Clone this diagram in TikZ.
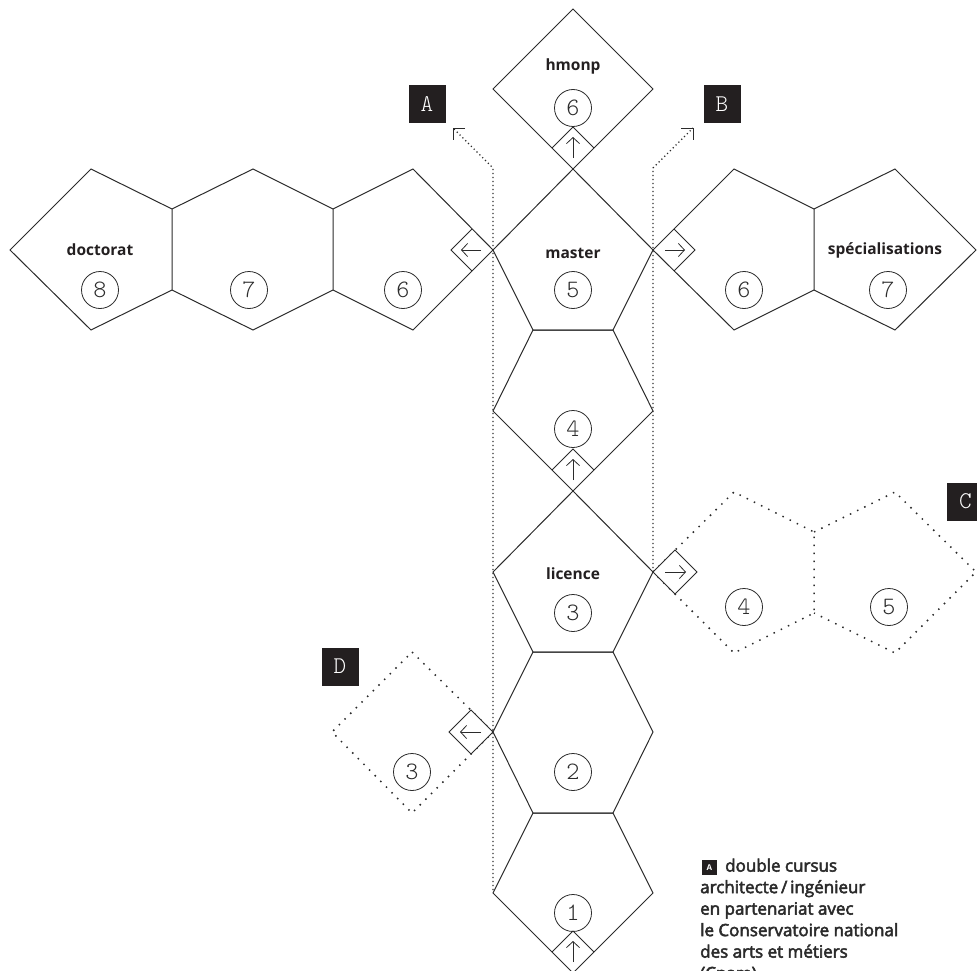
\documentclass[tikz,border=0pt]{standalone}
\usepackage{fontspec}
\setmainfont{Open Sans}
\newfontfamily\numfont{lmmonolt10-regular.otf}
\newfontfamily\legfont{Open Sans}[FakeBold=3]
\usetikzlibrary{arrows.meta}
\definecolor{ink}{HTML}{2B2B2B}
\definecolor{boxk}{HTML}{231F20}
\begin{document}
\begin{tikzpicture}[x=1pt,y=-1pt,
  shapeline/.style={draw=ink, line width=1pt, line join=miter},
  dotline/.style={draw=ink, line width=1.2pt, dash pattern=on 1.2pt off 2.8pt},
  sparse/.style={draw=ink, line width=1.5pt, dash pattern=on 1.5pt off 6.5pt},
  headline/.style={draw=ink, line width=0.9pt},
  num/.style={circle, draw=ink, line width=0.8pt, minimum size=37pt, inner sep=0pt, font=\numfont\fontsize{25}{25}\selectfont, text=ink},
  lab/.style={font=\bfseries\fontsize{15.5}{15.5}\selectfont, text=boxk, inner sep=0pt},
  tagbox/.style={fill=boxk, minimum width=37pt, minimum height=38pt, inner sep=0pt, text=white, font=\numfont\fontsize{24}{24}\selectfont},
  arr/.style={draw=ink, line width=0.8pt, -{Straight Barb[length=6pt,width=13pt]}}
]
\useasboundingbox (0,0) rectangle (977,971);
\clip (0,0) rectangle (977,971);

% dotted guide lines with open heads
\coordinate (Lb) at (493,890); \coordinate (Lt) at (493,168); \coordinate (Ah) at (453,128);
\coordinate (Rb) at (653,572); \coordinate (Rt) at (653,168); \coordinate (Bh) at (693,128);
\draw[dotline] (Lb) -- (Lt) -- (Ah);
\draw[dotline] (Rb) -- (Rt) -- (Bh);
\draw[headline] ([xshift=12pt]Ah) -- (Ah) -- ([yshift=-12pt]Ah);
\draw[headline] ([xshift=-12pt]Bh) -- (Bh) -- ([yshift=-12pt]Bh);

% optional branches (dotted)
\draw[sparse] (653,572) -- (734,492) -- (814,532) -- (814,613) -- (734,653) -- cycle;
\draw[sparse] (814,532) -- (895,492) -- (976,572) -- (895,653) -- (814,613);
\draw[sparse] (412,652) -- (493,732) -- (412,813) -- (332,732) -- cycle;

% central column
\draw[shapeline] (573,9) -- (653,89) -- (573,169) -- (493,89) -- cycle;
\draw[shapeline] (573,169) -- (653,250) -- (613,330) -- (533,330) -- (493,250) -- cycle;
\draw[shapeline] (533,330) -- (613,330) -- (653,411) -- (573,491) -- (493,411) -- cycle;
\draw[shapeline] (573,491) -- (653,572) -- (613,652) -- (533,652) -- (493,572) -- cycle;
\draw[shapeline] (533,652) -- (613,652) -- (653,732) -- (613,813) -- (533,813) -- (493,732) -- cycle;
\draw[shapeline] (533,813) -- (613,813) -- (653,893) -- (573,973) -- (493,893) -- cycle;

% left branch
\draw[shapeline] (493,250) -- (413,169) -- (333,209) -- (333,290) -- (413,330) -- cycle;
\draw[shapeline] (333,209) -- (253,169) -- (172,209) -- (172,290) -- (253,330) -- (333,290);
\draw[shapeline] (172,209) -- (91,169) -- (10,250) -- (91,330) -- (172,290);

% right branch
\draw[shapeline] (653,250) -- (734,169) -- (814,209) -- (814,290) -- (734,330) -- cycle;
\draw[shapeline] (814,209) -- (895,169) -- (976,250) -- (895,330) -- (814,290);

% small arrow diamonds
\draw[shapeline] (552,148) -- (573,127) -- (594,148);
\draw[arr] (573,158) -- (573,137);
\draw[shapeline] (552,470) -- (573,449) -- (594,470);
\draw[arr] (573,480) -- (573,459);
\draw[shapeline] (552,952) -- (573,931) -- (594,952);
\draw[arr] (573,962) -- (573,941);
\draw[shapeline] (472,229) -- (451,250) -- (472,271);
\draw[arr] (481,250) -- (461,250);
\draw[shapeline] (674,229) -- (695,250) -- (674,271);
\draw[arr] (665,250) -- (685,250);
\draw[shapeline, fill=white] (653,572) -- (675,550) -- (697,572) -- (675,594) -- cycle;
\draw[arr] (665,572) -- (686,572);
\draw[shapeline, fill=white] (493,732) -- (471,710) -- (449,732) -- (471,754) -- cycle;
\draw[arr] (481,732) -- (460,732);

% labels
\node[lab] (hmonp) at (573,66) {hmonp};
\node[lab] (master) at (573,253) {master};
\node[lab] (licence) at (573,574) {licence};
\node[lab] (doctorat) at (100,250) {doctorat};
\node[lab] (spec) at (885,250) {spécialisations};

% numbers
\node[num] (n6t) at (573,108) {6};
\node[num] (n5) at (573,290) {5};
\node[num] (n4) at (573,429) {4};
\node[num] (n3) at (573,613) {3};
\node[num] (n2) at (573,772) {2};
\node[num] (n1) at (573,913) {1};
\node[num] (l6) at (403,290) {6};
\node[num] (l7) at (249,290) {7};
\node[num] (l8) at (100,290) {8};
\node[num] (r6) at (744,290) {6};
\node[num] (r7) at (888,290) {7};
\node[num] (c4) at (744,607) {4};
\node[num] (c5) at (889,607) {5};
\node[num] (d3) at (412,772) {3};

% tags
\node[tagbox] (tA) at (427,104) {A};
\node[tagbox] (tB) at (722,104) {B};
\node[tagbox] (tC) at (965.5,501.5) {C};
\node[tagbox] (tD) at (340,666.5) {D};

% legend
\node[anchor=north west, inner sep=0pt, align=left, font=\legfont\fontsize{17}{21.5}\selectfont, text=ink] (legend) at (700,858.5)
  {\hspace*{25pt}double cursus\\architecte\,/\,ingénieur\\en partenariat avec\\le Conservatoire national\\des arts et métiers\\(Cnam)};
\node[fill=boxk, minimum size=15pt, inner sep=0pt, text=white, font=\bfseries\fontsize{8}{8}\selectfont] (legA) at (709.5,867.5) {A};
\end{tikzpicture}
\end{document}
